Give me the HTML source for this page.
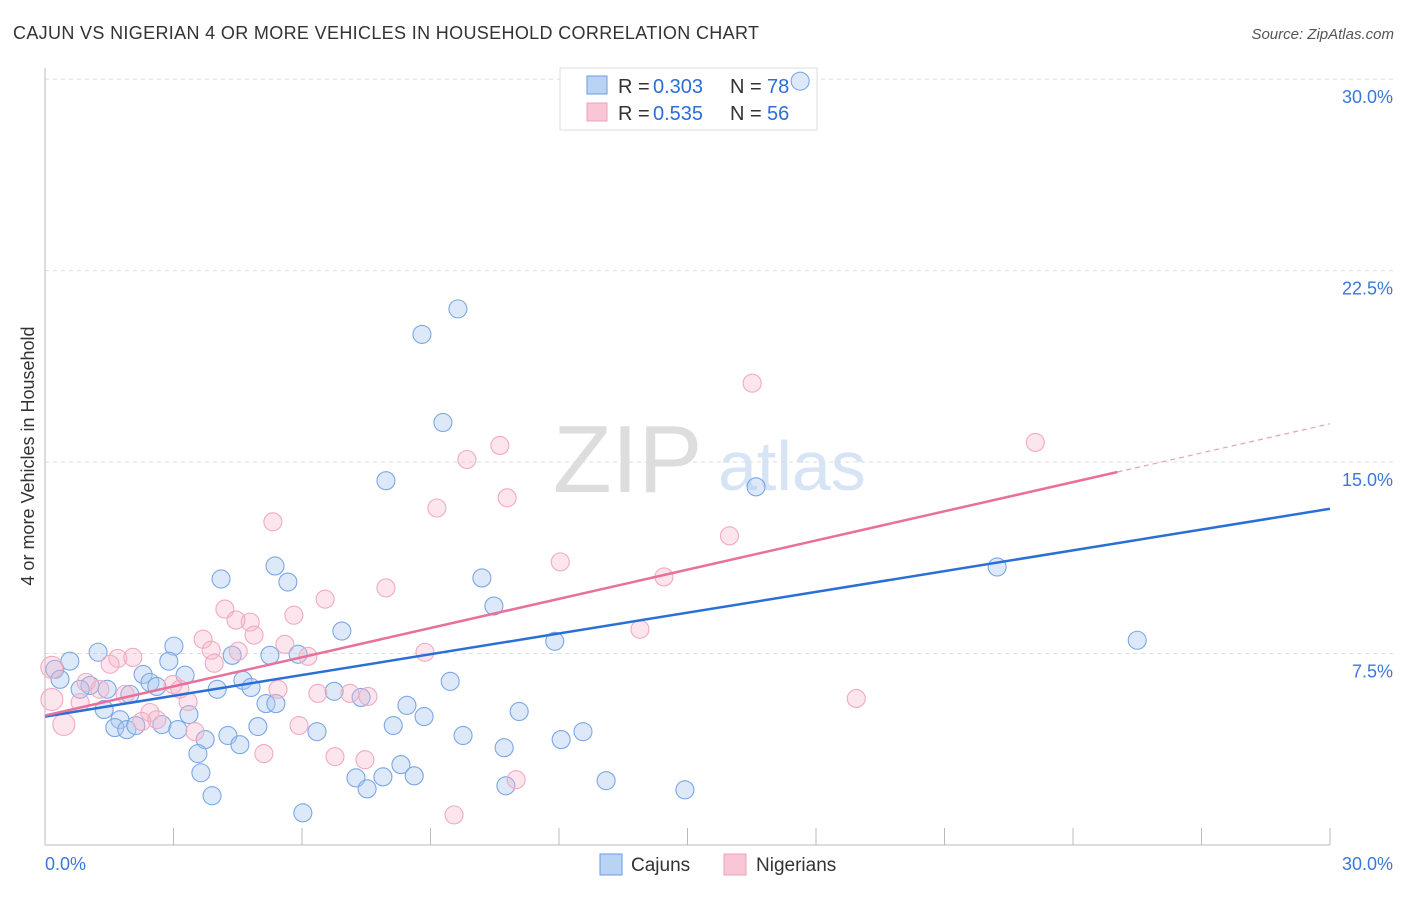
<!DOCTYPE html>
<html><head><meta charset="utf-8"><style>
body{margin:0;background:#fff;font-family:"Liberation Sans",sans-serif}
svg text{font-family:"Liberation Sans",sans-serif}
</style></head><body>
<svg id="chart" width="1406" height="892" xmlns="http://www.w3.org/2000/svg">
<text x="13" y="39" font-size="18" fill="#333" textLength="746">CAJUN VS NIGERIAN 4 OR MORE VEHICLES IN HOUSEHOLD CORRELATION CHART</text>
<text x="1394" y="39" font-size="15" fill="#555" text-anchor="end" font-style="italic">Source: ZipAtlas.com</text>
<text x="553" y="492" font-size="96" fill="#ddd" font-family="Liberation Serif">ZIP</text>
<text x="718" y="490" font-size="70" fill="#d6e4f5">atlas</text>
<g id="grid"></g>
<g id="axes"></g>
<g>
<rect x="560" y="68" width="257" height="62" fill="#fff" stroke="#ddd"/>
<rect x="587" y="76" width="20" height="18" fill="#b9d3f5" stroke="#6b9be0"/>
<rect x="587" y="103" width="20" height="18" fill="#f9c6d5" stroke="#f0a0b8"/>
<text y="93" font-size="20" fill="#333"><tspan x="618">R =</tspan><tspan x="653" fill="#2a6fd6">0.303</tspan><tspan x="730">N =</tspan><tspan x="767" fill="#2a6fd6">78</tspan></text>
<text y="120" font-size="20" fill="#333"><tspan x="618">R =</tspan><tspan x="653" fill="#2a6fd6">0.535</tspan><tspan x="730">N =</tspan><tspan x="767" fill="#2a6fd6">56</tspan></text>
</g>
<g id="pts"></g>
<g id="lines"></g>
<text transform="translate(34,456) rotate(-90)" font-size="18" fill="#333" text-anchor="middle">4 or more Vehicles in Household</text>
<g><rect x="600" y="854" width="22" height="21" fill="#b9d3f5" stroke="#6b9be0"/><text x="631" y="871" font-size="19" fill="#333">Cajuns</text></g>
<g><rect x="724" y="854" width="22" height="21" fill="#f9c6d5" stroke="#f0a0b8"/><text x="756" y="871" font-size="19" fill="#333">Nigerians</text></g>
</svg>
<script>
const yTicks=[7.5,15,22.5,30];
const yTickLabels=["7.5%","15.0%","22.5%","30.0%"];
const xTickLabels=["0.0%","30.0%"];
const cajunX=[17.63,9.64,8.80,9.29,16.6,7.96,22.23,25.5,10.2,10.48,4.11,5.37,5.67,11.9,6.93,3.01,1.24,0.58,0.23,2.89,4.37,5.25,5.91,2.29,3.27,2.45,2.61,4.62,4.81,4.02,9.46,0.35,1.05,0.82,1.45,1.98,6.75,7.38,5.16,5.39,8.45,1.38,3.36,11.07,8.85,1.75,2.73,1.63,1.91,2.12,3.1,4.97,6.35,8.13,12.56,9.76,4.27,3.74,4.55,12.05,10.72,3.57,8.31,3.64,7.26,7.89,8.62,13.1,7.52,10.76,14.94,3.90,6.02];
const cajunY=[29.92,21.0,20.0,16.55,14.03,14.27,10.89,8.02,10.46,9.36,10.42,10.93,10.30,7.98,8.38,7.79,7.55,7.20,6.88,7.20,7.43,7.43,7.47,6.68,6.65,6.37,6.21,6.45,6.17,6.10,6.41,6.49,6.25,6.10,6.10,5.90,6.02,5.78,5.54,5.54,5.47,5.31,5.11,5.23,5.03,4.91,4.72,4.60,4.52,4.68,4.52,4.64,4.44,4.68,4.44,4.29,4.29,4.13,3.93,4.13,3.81,3.58,3.15,2.83,2.63,2.67,2.71,2.52,2.20,2.32,2.16,1.93,1.26];
const nigX=[16.51,23.12,10.62,9.85,10.79,9.15,5.32,15.98,12.03,14.45,7.96,6.54,4.2,5.81,4.79,4.46,4.88,13.89,3.69,5.6,3.88,4.51,8.87,6.14,1.7,2.05,1.52,3.95,0.16,0.96,1.28,1.87,2.99,3.15,5.44,6.37,7.12,7.54,18.94,3.34,0.82,0.16,2.45,2.61,2.26,5.93,3.5,0.44,5.11,6.77,7.47,11.0,9.55];
const nigY=[18.09,15.77,15.65,15.1,13.6,13.2,12.66,12.11,11.09,10.5,10.07,9.63,9.24,9.0,8.73,8.81,8.22,8.45,8.06,7.86,7.63,7.59,7.55,7.39,7.31,7.35,7.08,7.12,6.96,6.37,6.10,5.90,6.29,6.10,6.10,5.94,5.94,5.82,5.74,5.62,5.58,5.70,5.19,4.91,4.84,4.68,4.44,4.72,3.58,3.46,3.34,2.56,1.18];
const cajunTrend=[5.03,13.17];
const nigTrend=[5.07,16.5];
const nigSolidEnd=25.04;
const X=v=>45+v/30*1285, Y=v=>845-v*25.53;
const NS="http://www.w3.org/2000/svg";
function mk(tag,parent,attrs){const e=document.createElementNS(NS,tag);for(const k in attrs)e.setAttribute(k,attrs[k]);parent.appendChild(e);return e;}
const grid=document.getElementById('grid'),axes=document.getElementById('axes'),pts=document.getElementById('pts'),lines=document.getElementById('lines');
yTicks.forEach((t,i)=>{
 const l=mk('line',grid,{x1:45,x2:1393,y1:Y(t),y2:Y(t),stroke:'#ddd','stroke-dasharray':'4,4'});
 
 
 const tx=mk('text',axes,{x:1393,y:Y(t)+24,'font-size':18,fill:'#3a78d8','text-anchor':'end'});
 tx.textContent=yTickLabels[i];
 
 
});
mk('line',axes,{x1:45,x2:45,y1:68,y2:845,stroke:'#bbb'});
mk('line',axes,{x1:45,x2:1330,y1:845,y2:845,stroke:'#bbb'});
for(let i=0;i<=10;i++){const x=X(i*3);const t=mk('line',axes,{x1:x,x2:x,y1:828,y2:845,stroke:'#bbb'});}
[[0,'start',45],[30,'end',1393]].forEach((a,i)=>{const t=mk('text',axes,{x:a[2],y:870,'font-size':18,fill:'#3a78d8','text-anchor':a[1]});t.textContent=xTickLabels[i];});
cajunX.forEach((v,i)=>{const c=mk('circle',pts,{cx:X(v),cy:Y(cajunY[i]),r:9,fill:'rgba(170,200,240,0.4)',stroke:'#7ba7e6','stroke-width':1.1});
 
 });
nigX.forEach((v,i)=>{const c=mk('circle',pts,{cx:X(v),cy:Y(nigY[i]),r:(v<0.5?11:9),fill:'rgba(246,180,200,0.35)',stroke:'#f2aac0','stroke-width':1.1});
 
 });
const cl=mk('line',lines,{x1:X(0),y1:Y(cajunTrend[0]),x2:X(30),y2:Y(cajunTrend[1]),stroke:'#2a6fd6','stroke-width':2.5});


const ny=v=>nigTrend[0]+(nigTrend[1]-nigTrend[0])*v/30;
const nl=mk('line',lines,{x1:X(0),y1:Y(ny(0)),x2:X(nigSolidEnd),y2:Y(ny(nigSolidEnd)),stroke:'#e8709a','stroke-width':2.5});


const nd=mk('line',lines,{x1:X(nigSolidEnd),y1:Y(ny(nigSolidEnd)),x2:X(30),y2:Y(ny(30)),stroke:'#e8a0b8','stroke-width':1.2,'stroke-dasharray':'5,4'});


</script>
</body></html>
